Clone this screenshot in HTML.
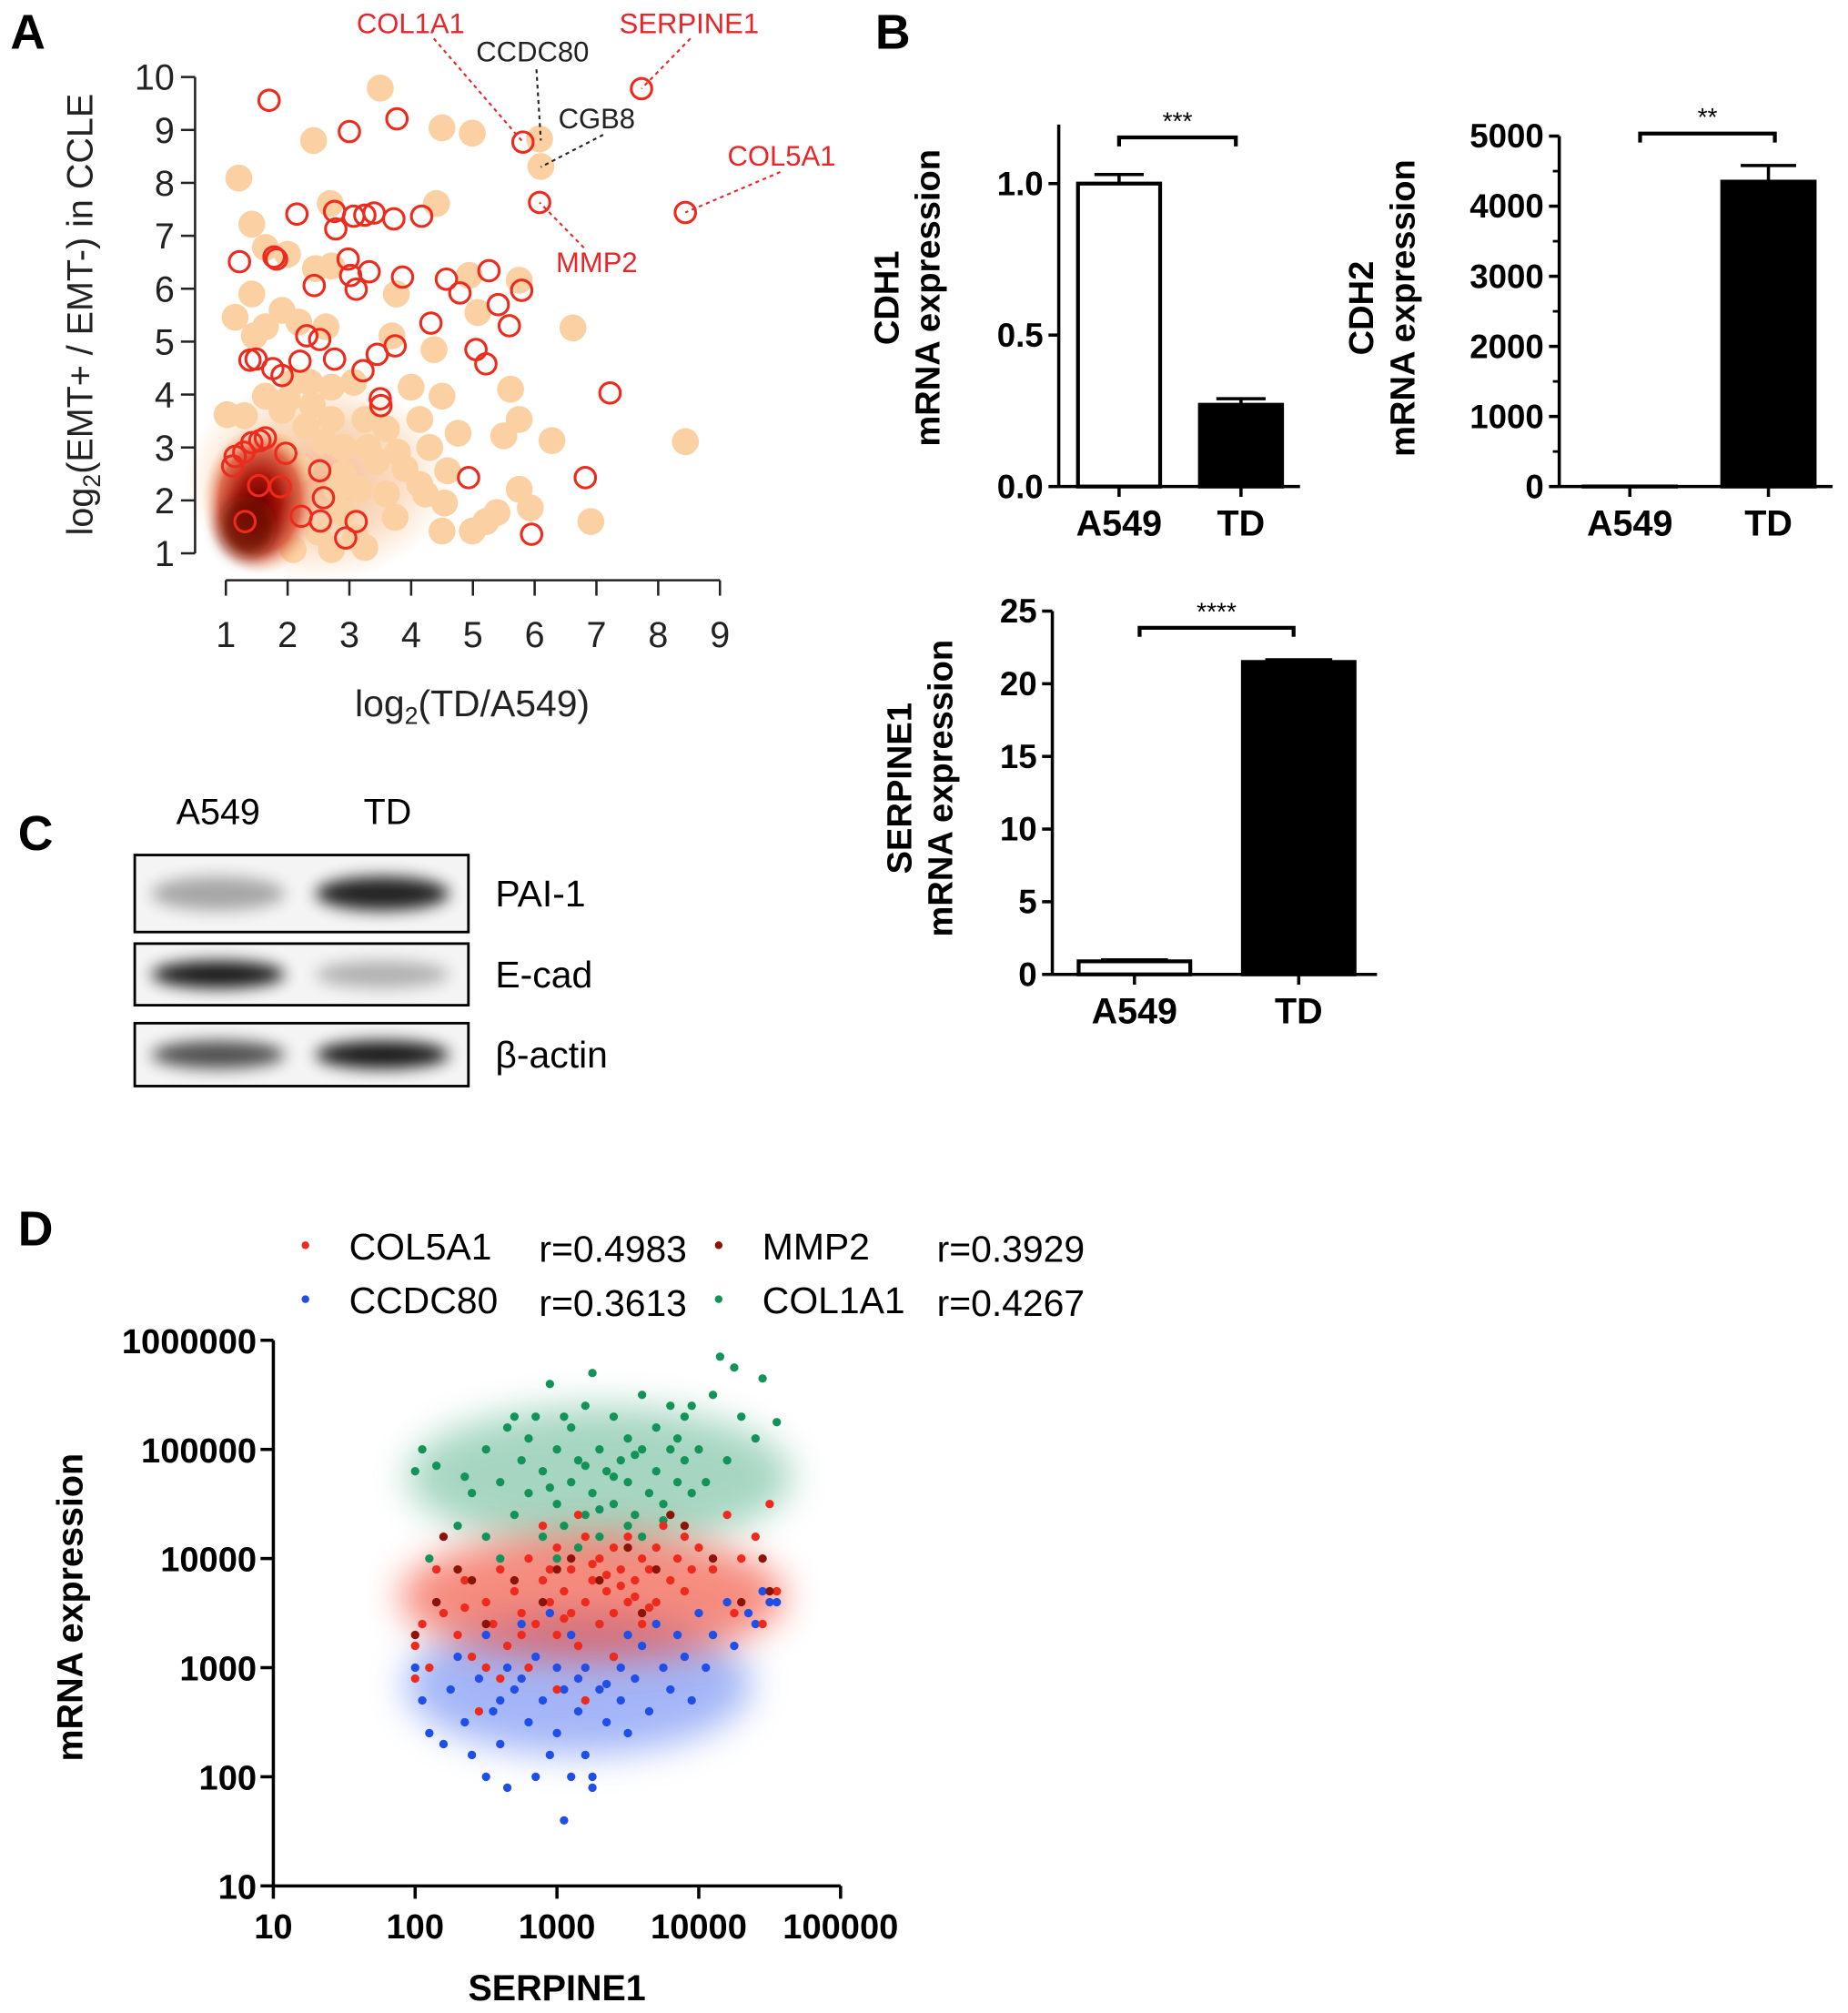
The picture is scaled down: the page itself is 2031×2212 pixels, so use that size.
<!DOCTYPE html>
<html><head><meta charset="utf-8"><style>
html,body{margin:0;padding:0;background:#fff;}
svg{display:block;font-family:"Liberation Sans",sans-serif;}
</style></head><body>
<svg id="fig" xmlns="http://www.w3.org/2000/svg" width="2031" height="2212" viewBox="0 0 1440 1568" preserveAspectRatio="none">
<defs>
<radialGradient id="hot" cx="50%" cy="50%" r="50%">
<stop offset="0" stop-color="#7a0000"/><stop offset="0.35" stop-color="#a8180c"/><stop offset="0.7" stop-color="#d9563a" stop-opacity="0.85"/><stop offset="1" stop-color="#f5b88c" stop-opacity="0"/>
</radialGradient>
<radialGradient id="warm" cx="50%" cy="50%" r="50%">
<stop offset="0" stop-color="#f4ae82" stop-opacity="0.9"/><stop offset="0.6" stop-color="#f8c69c" stop-opacity="0.6"/><stop offset="1" stop-color="#f9cfa3" stop-opacity="0"/>
</radialGradient>
<filter id="blur" x="-50%" y="-50%" width="200%" height="200%"><feGaussianBlur stdDeviation="6"/></filter>
<filter id="blur2" x="-50%" y="-50%" width="200%" height="200%"><feGaussianBlur stdDeviation="14"/></filter>
</defs>
<g id="panelA"></g>
<g id="panelB"></g>
<g id="panelC"></g>
<g id="panelD"></g>
</svg>
<script>
// ---------- Panel A data ----------
const aRedX=[1.70,3.77,3.0,5.81,7.73,6.08,8.44,2.15,2.76,2.78,3.07,3.25,3.40,3.72,4.17,1.22,1.78,1.82,2.98,3.02,3.32,3.11,2.43,3.86,4.57,4.79,5.26,5.79,5.41,5.59,4.32,5.05,5.21,3.74,3.45,3.22,2.76,2.31,2.52,2.20,1.39,1.49,1.76,1.91,3.50,3.51,7.22,6.82,4.93,1.97,2.52,2.58,2.53,2.22,3.11,2.94,1.88,1.53,5.95,1.15,1.29,1.42,1.55,1.64,1.31,1.11];
const aRedY=[9.56,9.21,8.97,8.77,9.78,7.63,7.44,7.41,7.46,7.13,7.37,7.39,7.43,7.32,7.37,6.51,6.60,6.56,6.56,6.25,6.32,5.99,6.06,6.22,6.18,5.92,6.34,5.97,5.70,5.30,5.35,4.85,4.58,4.92,4.76,4.45,4.67,5.11,5.04,4.63,4.65,4.67,4.49,4.36,3.92,3.79,4.03,2.43,2.43,2.89,2.56,2.05,1.61,1.70,1.60,1.29,2.26,2.28,1.36,2.83,2.91,3.09,3.13,3.18,1.60,2.65];
const aFillX=[3.50,4.50,4.99,2.42,6.08,6.10,1.21,4.41,2.69,1.42,1.64,2.0,2.45,2.71,3.76,4.94,5.75,1.42,1.15,1.91,2.18,2.62,1.64,1.46,3.69,4.37,5.08,6.62,2.09,2.36,2.71,3.07,4.0,4.50,5.61,1.64,1.91,1.02,2.71,3.25,3.60,4.14,4.76,5.75,5.50,6.28,8.44,1.20,2.90,3.44,3.78,4.14,4.59,5.75,5.93,5.39,4.54,3.74,4.50,4.99,6.91,3.25,2.71,2.09,5.21,4.23,3.16,2.89,3.60,2.3,2.6,1.3,1.9,2.2,2.9,3.3,2.4,2.8,3.1,3.9,4.3,2.5,2.0];
const aFillY=[9.79,9.04,8.94,8.80,8.83,8.31,8.09,7.61,7.61,7.22,6.78,6.65,6.38,6.43,5.90,6.25,6.16,5.90,5.46,5.59,5.37,5.28,5.28,5.11,5.11,4.85,5.55,5.26,4.23,4.23,4.14,4.23,4.14,3.97,4.10,3.97,3.70,3.62,3.53,3.53,3.35,3.53,3.27,3.53,3.22,3.13,3.11,2.21,3.0,2.74,2.91,2.30,2.56,2.21,1.86,1.77,1.95,1.68,1.42,1.42,1.60,1.11,1.07,1.07,1.60,2.12,2.21,1.77,2.12,3.4,3.1,3.6,3.0,2.6,2.5,3.0,3.8,2.2,1.3,2.6,3.0,1.4,3.9];
const aXTicks=[1,2,3,4,5,6,7,8,9];
const aYTicks=[1,2,3,4,5,6,7,8,9,10];
// ---------- Panel B data ----------
const b1Values=[1.0,0.27]; const b1Err=[0.03,0.02];
const b1Ticks=[0.0,0.5,1.0];
const b2Values=[1,4350]; const b2Err=[0,230];
const b2Ticks=[0,1000,2000,3000,4000,5000];
const b3Values=[0.9,21.5]; const b3Err=[0.1,0.15];
const b3Ticks=[0,5,10,15,20,25];
const bCats=["A549","TD"];
// ---------- Panel D data (log10 units) ----------
const dGreenX=[2.1,2.15,2.3,2.4,2.5,2.5,2.6,2.65,2.7,2.75,2.8,2.85,2.9,2.9,2.95,3.0,3.0,3.05,3.1,3.1,3.15,3.2,3.2,3.25,3.3,3.3,3.35,3.4,3.4,3.45,3.5,3.5,3.55,3.6,3.6,3.65,3.7,3.7,3.75,3.8,3.8,3.85,3.9,3.9,3.95,4.0,4.05,4.1,4.15,4.2,4.25,4.3,4.4,4.45,4.55,2.0,2.05,2.6,3.0,3.25,3.5,2.35,2.8,3.15,3.6,3.85,3.95,2.7,3.3,3.05,3.4,3.2,2.95,3.55,3.75];
const dGreenY=[4.0,4.85,4.3,4.6,5.0,4.2,4.7,5.2,4.4,4.9,4.6,5.3,4.2,4.8,5.6,4.5,5.0,4.3,4.7,5.2,4.9,4.4,5.4,4.6,5.0,4.2,4.8,5.3,4.5,4.9,4.7,5.1,4.4,5.0,5.5,4.6,4.8,5.2,4.5,5.0,5.4,4.7,4.9,5.3,4.6,5.0,4.7,5.5,5.85,4.9,5.75,5.3,5.1,5.65,5.25,4.8,5.0,4.0,4.0,5.7,4.3,4.75,5.1,4.1,4.2,5.1,5.4,5.3,4.45,5.3,4.75,4.85,4.65,4.95,4.35];
const dRedX=[2.0,2.05,2.1,2.15,2.2,2.3,2.35,2.4,2.45,2.5,2.55,2.6,2.65,2.7,2.75,2.8,2.8,2.85,2.9,2.95,3.0,3.0,3.05,3.1,3.1,3.15,3.2,3.2,3.25,3.3,3.3,3.35,3.4,3.4,3.45,3.5,3.5,3.55,3.6,3.6,3.65,3.7,3.7,3.75,3.8,3.85,3.9,3.9,3.95,4.0,4.1,4.2,4.25,4.3,4.4,4.45,4.5,4.55,2.6,3.0,3.2,2.9,3.4,2.5,3.15,2.0,2.35,3.05,3.35,3.55,2.75,3.25,3.45,3.65,2.95];
const dRedY=[3.2,3.4,3.0,3.9,3.5,3.3,3.8,3.1,2.6,3.6,3.4,3.9,3.2,3.7,3.5,4.0,3.0,3.4,3.8,3.6,3.3,4.1,3.7,3.5,3.9,3.2,3.6,4.2,3.8,3.4,4.0,3.7,3.5,4.1,3.9,3.6,4.2,3.8,4.0,3.4,3.9,4.1,3.6,4.3,3.8,4.0,3.7,4.2,3.9,4.1,3.9,4.4,3.5,4.0,4.2,3.4,4.5,3.7,2.9,2.8,2.7,4.3,3.1,3.0,4.4,2.9,3.55,3.45,3.85,3.65,3.3,3.95,3.75,3.55,3.9];
const dDarkX=[2.0,2.15,2.3,2.5,2.7,2.9,3.1,3.3,3.5,3.7,3.9,4.1,4.3,4.45,4.5,2.2,3.6,2.4,3.0,3.8];
const dDarkY=[3.3,3.6,3.9,3.4,3.8,3.6,4.0,3.8,4.1,3.9,4.3,4.0,3.6,4.0,3.7,4.2,3.5,3.8,3.9,4.4];
const dBlueX=[2.0,2.05,2.1,2.15,2.25,2.3,2.35,2.4,2.45,2.5,2.55,2.6,2.65,2.7,2.75,2.8,2.85,2.9,2.95,3.0,3.0,3.05,3.1,3.1,3.15,3.2,3.2,3.25,3.3,3.3,3.35,3.4,3.45,3.5,3.5,3.55,3.6,3.65,3.7,3.75,3.8,3.85,3.9,3.95,4.0,4.05,4.1,4.2,4.25,4.35,4.4,4.45,4.5,4.55,2.65,3.05,2.85,3.25,2.95,2.5,2.2,3.15,3.35,2.75,3.45,2.6];
const dBlueY=[3.0,2.7,2.4,3.6,2.8,3.1,2.5,2.2,2.9,3.3,2.6,2.3,3.0,2.8,3.4,2.5,3.1,2.7,2.2,3.0,2.4,2.8,3.3,2.0,2.6,3.0,2.2,1.9,2.8,3.4,2.5,3.1,2.7,3.3,2.4,2.9,3.2,2.6,3.4,3.0,2.8,3.3,3.1,2.7,3.5,3.0,3.3,3.6,3.2,3.5,3.4,3.7,3.6,3.6,1.9,1.6,2.0,2.0,3.5,2.0,2.3,2.9,2.85,2.9,3.0,2.7];
const dXTicks=["10","100","1000","10000","100000"];
const dYTicks=["10","100","1000","10000","100000","1000000"];

const NS="http://www.w3.org/2000/svg";
function mk(parent,tag,attrs,text){const e=document.createElementNS(NS,tag);for(const k in attrs)e.setAttribute(k,attrs[k]);if(text!==undefined)e.textContent=text;parent.appendChild(e);return e;}

// ===== Panel A =====
(function(){
const g=document.getElementById('panelA');
const ax=v=>176+(v-1)*(561-176)/8, ay=v=>431-(v-1)*(431-60)/9;
let t=mk(g,'text',{x:8,y:38,'font-size':38,'font-weight':'bold'},'A');


let b=mk(g,'ellipse',{cx:ax(2.5),cy:ay(2.4),rx:105,ry:80,fill:'url(#warm)'});


aFillX.forEach((x,i)=>{const c=mk(g,'circle',{cx:ax(x),cy:ay(aFillY[i]),r:10.5,fill:'#fbd1a3'});

});
let h=mk(g,'ellipse',{cx:ax(1.55),cy:ay(2.0),rx:45,ry:58,fill:'url(#hot)'});


let h2=mk(g,'ellipse',{cx:ax(1.35),cy:ay(1.5),rx:22,ry:24,fill:'#6a0803',opacity:0.85,filter:'url(#blur)'});


aRedX.forEach((x,i)=>{const c=mk(g,'circle',{cx:ax(x),cy:ay(aRedY[i]),r:8,fill:'none',stroke:'#ee2a1c','stroke-width':2.2});

});
let ya=mk(g,'line',{x1:152,y1:ay(1),x2:152,y2:ay(10),stroke:'#222','stroke-width':1.8});


aYTicks.forEach(v=>{mk(g,'line',{x1:141,y1:ay(v),x2:152,y2:ay(v),stroke:'#222','stroke-width':1.8});
const l=mk(g,'text',{x:136,y:ay(v)+10,'font-size':28,'text-anchor':'end',fill:'#222'},v);

});
let xa=mk(g,'line',{x1:ax(1),y1:452,x2:ax(9),y2:452,stroke:'#222','stroke-width':1.8});


aXTicks.forEach(v=>{mk(g,'line',{x1:ax(v),y1:452,x2:ax(v),y2:464,stroke:'#222','stroke-width':1.8});
const l=mk(g,'text',{x:ax(v),y:504,'font-size':28,'text-anchor':'middle',fill:'#222'},v);

});
let xt=mk(g,'text',{x:368,y:558,'font-size':29,'text-anchor':'middle',fill:'#222'});
xt.innerHTML='log<tspan font-size="19" dy="6">2</tspan><tspan dy="-6">(TD/A549)</tspan>';


let yt=mk(g,'text',{transform:'translate(72,245) rotate(-90)','font-size':28,'text-anchor':'middle',fill:'#222'});
yt.innerHTML='log<tspan font-size="19" dy="6">2</tspan><tspan dy="-6">(EMT+ / EMT-) in CCLE</tspan>';


const ann=[["COL1A1",320,26,'#e8262a',5.81,8.77,338,30],["CCDC80",415,48,'#222',6.1,8.8,418,54],["SERPINE1",537,26,'#e8262a',7.73,9.78,538,30],["CGB8",465,100,'#222',6.1,8.3,470,105],["COL5A1",609,129,'#e8262a',8.44,7.44,608,134],["MMP2",465,212,'#e8262a',6.08,7.63,455,193]];
ann.forEach(a=>{const l=mk(g,'line',{x1:a[6],y1:a[7],x2:ax(a[4]),y2:ay(a[5]),stroke:a[3],'stroke-width':1.5,'stroke-dasharray':'3,3'});


const tx=mk(g,'text',{x:a[1],y:a[2],'font-size':22,'text-anchor':'middle',fill:a[3]},a[0]);

});
})();

// ===== Panel B =====
(function(){
const g=document.getElementById('panelB');
let t=mk(g,'text',{x:682,y:38,'font-size':38,'font-weight':'bold'},'B');


function bar(cfg){
const y=v=>cfg.y0-(v/cfg.max)*(cfg.y0-cfg.yTop);
const ax=mk(g,'line',{x1:cfg.ax,y1:cfg.y0,x2:cfg.ax,y2:cfg.axTop,stroke:'#000','stroke-width':2.5});


const xa=mk(g,'line',{x1:cfg.ax,y1:cfg.y0,x2:cfg.axEnd,y2:cfg.y0,stroke:'#000','stroke-width':2.5});


cfg.ticks.forEach(v=>{mk(g,'line',{x1:cfg.ax-8,y1:y(v),x2:cfg.ax,y2:y(v),stroke:'#000','stroke-width':2.5});
const l=mk(g,'text',{x:cfg.ax-12,y:y(v)+9,'font-size':26,'font-weight':'bold','text-anchor':'end'},cfg.fmt(v));

});
if(cfg.minor){for(let i=0;i<cfg.ticks.length-1;i++){const m=(cfg.ticks[i]+cfg.ticks[i+1])/2;mk(g,'line',{x1:cfg.ax-5,y1:y(m),x2:cfg.ax,y2:y(m),stroke:'#000','stroke-width':2});}}
cfg.vals.forEach((v,i)=>{const cx=cfg.cx[i];
const r=mk(g,'rect',{x:cx-cfg.w/2,y:y(v),width:cfg.w,height:cfg.y0-y(v),fill:i? '#000':'#fff',stroke:'#000','stroke-width':3});


if(cfg.err[i]>0){mk(g,'line',{x1:cx,y1:y(v),x2:cx,y2:y(v+cfg.err[i]),stroke:'#000','stroke-width':2.5});
const e=mk(g,'line',{x1:cx-cfg.w*0.3,y1:y(v+cfg.err[i]),x2:cx+cfg.w*0.3,y2:y(v+cfg.err[i]),stroke:'#000','stroke-width':2.5});

}
mk(g,'line',{x1:cx,y1:cfg.y0,x2:cx,y2:cfg.y0+8,stroke:'#000','stroke-width':2.5});
const l=mk(g,'text',{x:cx,y:cfg.y0+38,'font-size':28,'font-weight':'bold','text-anchor':'middle'},bCats[i]);

});
const br=mk(g,'path',{d:`M${cfg.br[0]},${cfg.br[2]+7}V${cfg.br[2]}H${cfg.br[1]}V${cfg.br[2]+7}`,fill:'none',stroke:'#000','stroke-width':3});


const st=mk(g,'text',{x:(cfg.br[0]+cfg.br[1])/2,y:cfg.br[2]-6,'font-size':20,'text-anchor':'middle'},cfg.star);


const yt=mk(g,'text',{transform:`translate(${cfg.tx},${cfg.ty}) rotate(-90)`,'font-size':27,'font-weight':'bold','text-anchor':'middle'});
yt.innerHTML=`<tspan x="0" dy="0">${cfg.title}</tspan><tspan x="0" dy="32">mRNA expression</tspan>`;


}
bar({name:'cdh1',ax:825,axTop:97,axEnd:1013,y0:379,yTop:143,max:1.0,ticks:b1Ticks,fmt:v=>v.toFixed(1),vals:b1Values,err:b1Err,cx:[872,967],w:64,br:[872,963,107],star:'***',title:'CDH1',tx:700,ty:232,minor:false});
bar({name:'cdh2',ax:1215,axTop:106,axEnd:1428,y0:379,yTop:106,max:5000,ticks:b2Ticks,fmt:v=>v,vals:b2Values,err:b2Err,cx:[1270,1378],w:72,br:[1278,1383,104],star:'**',title:'CDH2',tx:1070,ty:240,minor:true});
bar({name:'serpine1',ax:820,axTop:476,axEnd:1073,y0:759,yTop:476,max:25,ticks:b3Ticks,fmt:v=>v,vals:b3Values,err:b3Err,cx:[884,1012],w:87,br:[888,1008,489],star:'****',title:'SERPINE1',tx:710,ty:614,minor:false});
})();

// ===== Panel C =====
(function(){
const g=document.getElementById('panelC');
let t=mk(g,'text',{x:14,y:662,'font-size':38,'font-weight':'bold'},'C');


[["A549",170],["TD",302]].forEach(a=>{const l=mk(g,'text',{x:a[1],y:642,'font-size':28,'text-anchor':'middle'},a[0]);

});
const rows=[["PAI-1",666,726,[0.35,0.95]],["E-cad",735,783,[1.0,0.3]],["β-actin",797,846,[0.75,1.0]]];
rows.forEach(r=>{const h=r[2]-r[1],cy=(r[1]+r[2])/2;
const box=mk(g,'rect',{x:105,y:r[1],width:260,height:h,fill:'#f4f4f4',stroke:'#000','stroke-width':2});


[170,298].forEach((x,i)=>{const d=r[3][i];const e=mk(g,'ellipse',{cx:x,cy:cy,rx:52,ry:h*0.22,fill:'#000',opacity:d*0.9,filter:'url(#blur)'});

});
const l=mk(g,'text',{x:386,y:cy+10,'font-size':29},r[0]);

});
})();

// ===== Panel D =====
(function(){
const g=document.getElementById('panelD');
const px=l=>213+(l-1)*110.5, py=l=>1469-(l-1)*85;
let t=mk(g,'text',{x:14,y:970,'font-size':38,'font-weight':'bold'},'D');


// cloud density backdrops
const clouds=[[3.3,4.75,150,55,'#3aa577',0.45],[3.15,2.85,135,55,'#4a6ef0',0.5],[3.25,3.65,150,50,'#f0402c',0.6]];
clouds.forEach(c=>{const e=mk(g,'ellipse',{cx:px(c[0]),cy:py(c[1]),rx:c[2],ry:c[3],fill:c[4],opacity:c[5],filter:'url(#blur2)'});

});
const series=[[dGreenX,dGreenY,'#13935a','col1a1'],[dBlueX,dBlueY,'#1f4fe6','ccdc80'],[dRedX,dRedY,'#ee2a1c','col5a1'],[dDarkX,dDarkY,'#8b1308','mmp2']];
series.forEach(s=>{s[0].forEach((x,i)=>{const c=mk(g,'circle',{cx:px(x),cy:py(s[1][i]),r:3.3,fill:s[2]});

});});
let ya=mk(g,'line',{x1:213,y1:1469,x2:213,y2:py(6),stroke:'#000','stroke-width':2.5});


dYTicks.forEach((v,i)=>{mk(g,'line',{x1:203,y1:py(i+1),x2:213,y2:py(i+1),stroke:'#000','stroke-width':2.5});
const l=mk(g,'text',{x:200,y:py(i+1)+10,'font-size':27,'font-weight':'bold','text-anchor':'end'},v);

});
let xa=mk(g,'line',{x1:213,y1:1469,x2:px(5),y2:1469,stroke:'#000','stroke-width':2.5});


dXTicks.forEach((v,i)=>{mk(g,'line',{x1:px(i+1),y1:1469,x2:px(i+1),y2:1479,stroke:'#000','stroke-width':2.5});
const l=mk(g,'text',{x:px(i+1),y:1510,'font-size':27,'font-weight':'bold','text-anchor':'middle'},v);

});
let xt=mk(g,'text',{x:434,y:1558,'font-size':28,'font-weight':'bold','text-anchor':'middle'},'SERPINE1');


let yt=mk(g,'text',{transform:'translate(64,1252) rotate(-90)','font-size':28,'font-weight':'bold','text-anchor':'middle'},'mRNA expression');


const leg=[[238,970,'#ee2a1c','COL5A1','r=0.4983',272,420],[560,970,'#8b1308','MMP2','r=0.3929',594,730],[238,1012,'#1f4fe6','CCDC80','r=0.3613',272,420],[560,1012,'#13935a','COL1A1','r=0.4267',594,730]];
leg.forEach(e=>{const c=mk(g,'circle',{cx:e[0],cy:e[1],r:3,fill:e[2]});


const a=mk(g,'text',{x:e[5],y:e[1]+11,'font-size':29},e[3]);


const b=mk(g,'text',{x:e[6],y:e[1]+13,'font-size':29},e[4]);

});
})();
</script>
</body></html>
